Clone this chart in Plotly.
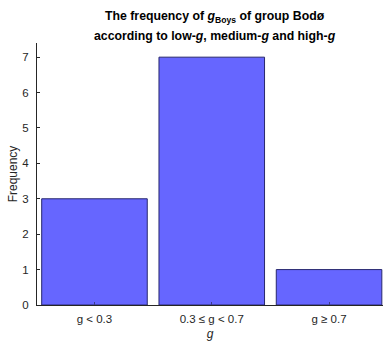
import plotly.graph_objects as go

categories = ["g < 0.3", "0.3 ≤ g < 0.7", "g ≥ 0.7"]
positions = [1, 2, 3]
frequencies = [3, 7, 1]
y_ticks = [0, 1, 2, 3, 4, 5, 6, 7]
title_lines = [
    "<b>The frequency of <i>g</i><sub>Boys</sub> of group Bodø</b>",
    "<b>according to low-<i>g</i>, medium-<i>g</i> and high-<i>g</i></b>",
]

fig = go.Figure(
    go.Bar(
        x=positions,
        y=frequencies,
        width=0.9,
        marker=dict(color="rgb(102,102,255)", line=dict(color="rgb(40,40,110)", width=1)),
    )
)

font_family = "Liberation Sans, Arial, sans-serif"
tick_font = dict(family=font_family, size=11.5, color="#262626")
label_font = dict(family=font_family, size=12, color="#262626")

# Two-line bold title placed as annotations in pixel-based paper coordinates
plot_h = 343 - 43 - 38
for i, line in enumerate(title_lines):
    y_px = 17 + 19 * i  # centre of line, from top of the page
    fig.add_annotation(
        text=line,
        xref="paper",
        yref="paper",
        x=0.515,
        y=1 + (43 - y_px) / plot_h,
        xanchor="center",
        yanchor="middle",
        showarrow=False,
        font=dict(family=font_family, size=12.3, color="black"),
    )

fig.update_layout(
    width=384,
    height=343,
    margin=dict(l=37, r=1, t=43, b=38),
    paper_bgcolor="white",
    plot_bgcolor="white",
    showlegend=False,
    xaxis=dict(
        range=[0.51, 3.46],
        tickvals=positions,
        ticktext=categories,
        ticks="inside",
        ticklen=3,
        tickcolor="rgb(60,60,140)",
        showline=True,
        linecolor="#262626",
        linewidth=1,
        showgrid=False,
        zeroline=False,
        tickfont=tick_font,
        ticklabelstandoff=3,
        title=dict(text="<i>g</i>", font=label_font, standoff=5),
    ),
    yaxis=dict(
        range=[0, 7.4],
        tickvals=y_ticks,
        ticks="inside",
        ticklen=3,
        tickcolor="#262626",
        showline=True,
        linecolor="#262626",
        linewidth=1,
        showgrid=False,
        zeroline=False,
        tickfont=tick_font,
        ticklabelstandoff=5,
        title=dict(text="Frequency", font=label_font, standoff=2),
    ),
)

fig.write_html("out.html")
